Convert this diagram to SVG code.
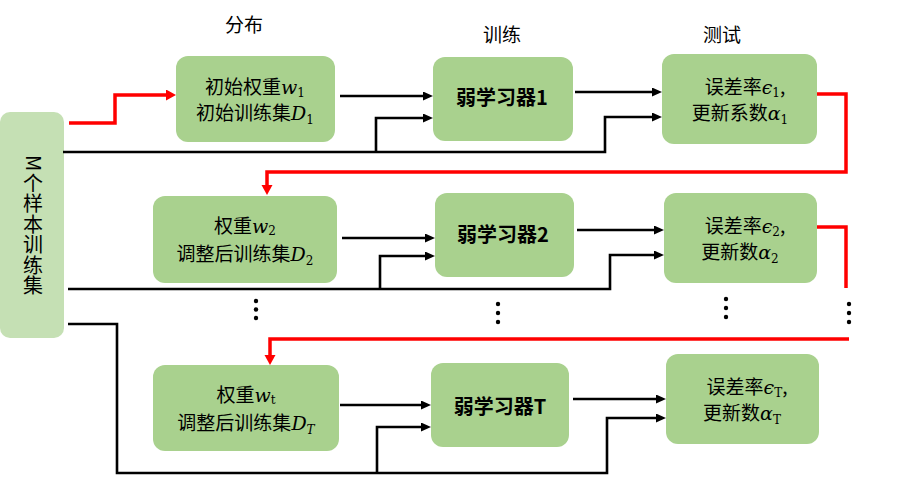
<svg xmlns="http://www.w3.org/2000/svg" width="898" height="477" viewBox="0 0 898 477">
<style>
.box{fill:#a9d18e}
.lbox{fill:#c5e0b4}
.t{font-family:"Noto Sans CJK SC","Noto Sans",sans-serif;font-size:19px;fill:#000}
.v{font-family:"Noto Sans CJK SC","Noto Sans",sans-serif;font-size:20px;fill:#000}
.b{font-family:"Noto Sans CJK SC","Noto Sans",sans-serif;font-size:20px;font-weight:bold;fill:#000}
.m{font-family:"DejaVu Serif","Liberation Serif",serif;font-style:italic}
.s{font-family:"DejaVu Serif","Liberation Serif",serif;font-size:12px;font-style:normal}
.si{font-family:"DejaVu Serif","Liberation Serif",serif;font-size:12px;font-style:italic}
.k{fill:none;stroke:#000;stroke-width:2.6}
.r{fill:none;stroke:#ff0000;stroke-width:3.5}
.dot{fill:#000}
</style>
<defs>
<marker id="ak" markerUnits="userSpaceOnUse" markerWidth="12" markerHeight="10" refX="2" refY="4.5" orient="auto"><path d="M0,0 L10,4.5 L0,9 z" fill="#000"/></marker>
<marker id="ar" markerUnits="userSpaceOnUse" markerWidth="12" markerHeight="12" refX="2" refY="5.5" orient="auto"><path d="M0,0 L10,5.5 L0,11 z" fill="#ff0000"/></marker>
</defs>

<g id="headers">
<text class="t" x="244" y="32" text-anchor="middle">分布</text>
<text class="t" x="502" y="42" text-anchor="middle">训练</text>
<text class="t" x="722" y="42" text-anchor="middle">测试</text>
</g>

<g id="samples">
<rect class="lbox" x="0" y="112" width="64" height="226" rx="10"/>
<text class="v" font-size="21" x="26" y="155" rotate="90">M</text>
<text class="v" x="33" y="173" letter-spacing="0.5" style="writing-mode:vertical-rl">个样本训练集</text>
</g>

<g id="dist1">
<rect class="box" x="176" y="56" width="159" height="86" rx="12"/>
<text class="t" x="255" y="94" text-anchor="middle">初始权重<tspan class="m">w</tspan><tspan class="s" dy="3">1</tspan></text>
<text class="t" x="255" y="120" text-anchor="middle">初始训练集<tspan class="m">D</tspan><tspan class="s" dy="4">1</tspan></text>
</g>
<g id="learner1">
<rect class="box" x="433" y="57" width="140" height="84" rx="12"/>
<text class="b" x="502" y="105" text-anchor="middle">弱学习器1</text>
</g>
<g id="test1">
<rect class="box" x="662" y="54" width="155" height="90" rx="12"/>
<text class="t" x="745" y="94" text-anchor="middle">误差率<tspan class="m">ϵ</tspan><tspan class="s" dy="3">1</tspan><tspan dy="-3">,</tspan></text>
<text class="t" x="740" y="120" text-anchor="middle">更新系数<tspan class="m">α</tspan><tspan class="s" dy="4">1</tspan></text>
</g>

<g id="dist2">
<rect class="box" x="153" y="196" width="184" height="87" rx="12"/>
<text class="t" x="245" y="233" text-anchor="middle">权重<tspan class="m">w</tspan><tspan class="s" dy="2">2</tspan></text>
<text class="t" x="245" y="261" text-anchor="middle">调整后训练集<tspan class="m">D</tspan><tspan class="s" dy="4">2</tspan></text>
</g>
<g id="learner2">
<rect class="box" x="435" y="193" width="139" height="84" rx="12"/>
<text class="b" x="503" y="242" text-anchor="middle">弱学习器2</text>
</g>
<g id="test2">
<rect class="box" x="664" y="193" width="153" height="90" rx="12"/>
<text class="t" x="745" y="233" text-anchor="middle">误差率<tspan class="m">ϵ</tspan><tspan class="s" dy="3">2</tspan><tspan dy="-3">,</tspan></text>
<text class="t" x="740" y="259" text-anchor="middle">更新数<tspan class="m">α</tspan><tspan class="s" dy="4">2</tspan></text>
</g>

<g id="distT">
<rect class="box" x="153" y="365" width="186" height="86" rx="12"/>
<text class="t" x="246" y="402" text-anchor="middle">权重<tspan class="m">w</tspan><tspan class="s" dy="2">t</tspan></text>
<text class="t" x="246" y="430" text-anchor="middle">调整后训练集<tspan class="m">D</tspan><tspan class="si" dy="4">T</tspan></text>
</g>
<g id="learnerT">
<rect class="box" x="431" y="363" width="138" height="84" rx="12"/>
<text class="b" x="500" y="414" text-anchor="middle">弱学习器T</text>
</g>
<g id="testT">
<rect class="box" x="666" y="354" width="153" height="90" rx="12"/>
<text class="t" x="747" y="394" text-anchor="middle">误差率<tspan class="m">ϵ</tspan><tspan class="s" dy="3">T</tspan><tspan dy="-3">,</tspan></text>
<text class="t" x="742" y="420" text-anchor="middle">更新数<tspan class="m">α</tspan><tspan class="s" dy="4">T</tspan></text>
</g>

<g id="connectors">
<path class="r" d="M69,123 H115 V95 H168" marker-end="url(#ar)"/>
<path class="k" d="M340,96 H425" marker-end="url(#ak)"/>
<path class="k" d="M63,152 H605 V117 H654" marker-end="url(#ak)"/>
<path class="k" d="M376,152 V118 H425" marker-end="url(#ak)"/>
<path class="k" d="M575,92 H654" marker-end="url(#ak)"/>
<path class="r" d="M817,94 H846 V172 H267 V187" marker-end="url(#ar)"/>

<path class="k" d="M342,238 H427" marker-end="url(#ak)"/>
<path class="k" d="M68,289 H610 V255 H656" marker-end="url(#ak)"/>
<path class="k" d="M380,289 V256 H427" marker-end="url(#ak)"/>
<path class="k" d="M577,230 H656" marker-end="url(#ak)"/>
<path class="r" d="M817,227 H846 V288"/>

<path class="r" d="M849,339 H270 V357" marker-end="url(#ar)"/>
<path class="k" d="M68,324 H117 V473 H607 V418 H658" marker-end="url(#ak)"/>
<path class="k" d="M377,473 V427 H423" marker-end="url(#ak)"/>
<path class="k" d="M340,405 H423" marker-end="url(#ak)"/>
<path class="k" d="M573,399 H658" marker-end="url(#ak)"/>
</g>

<g id="ellipsis">
<circle class="dot" cx="256" cy="301" r="2.2"/><circle class="dot" cx="256" cy="309.5" r="2.2"/><circle class="dot" cx="256" cy="318" r="2.2"/>
<circle class="dot" cx="498" cy="304" r="2.2"/><circle class="dot" cx="498" cy="313" r="2.2"/><circle class="dot" cx="498" cy="322" r="2.2"/>
<circle class="dot" cx="726" cy="299" r="2.2"/><circle class="dot" cx="726" cy="308" r="2.2"/><circle class="dot" cx="726" cy="317" r="2.2"/>
<circle class="dot" cx="849" cy="304" r="2.2"/><circle class="dot" cx="849" cy="313" r="2.2"/><circle class="dot" cx="849" cy="322" r="2.2"/>
</g>
</svg>
